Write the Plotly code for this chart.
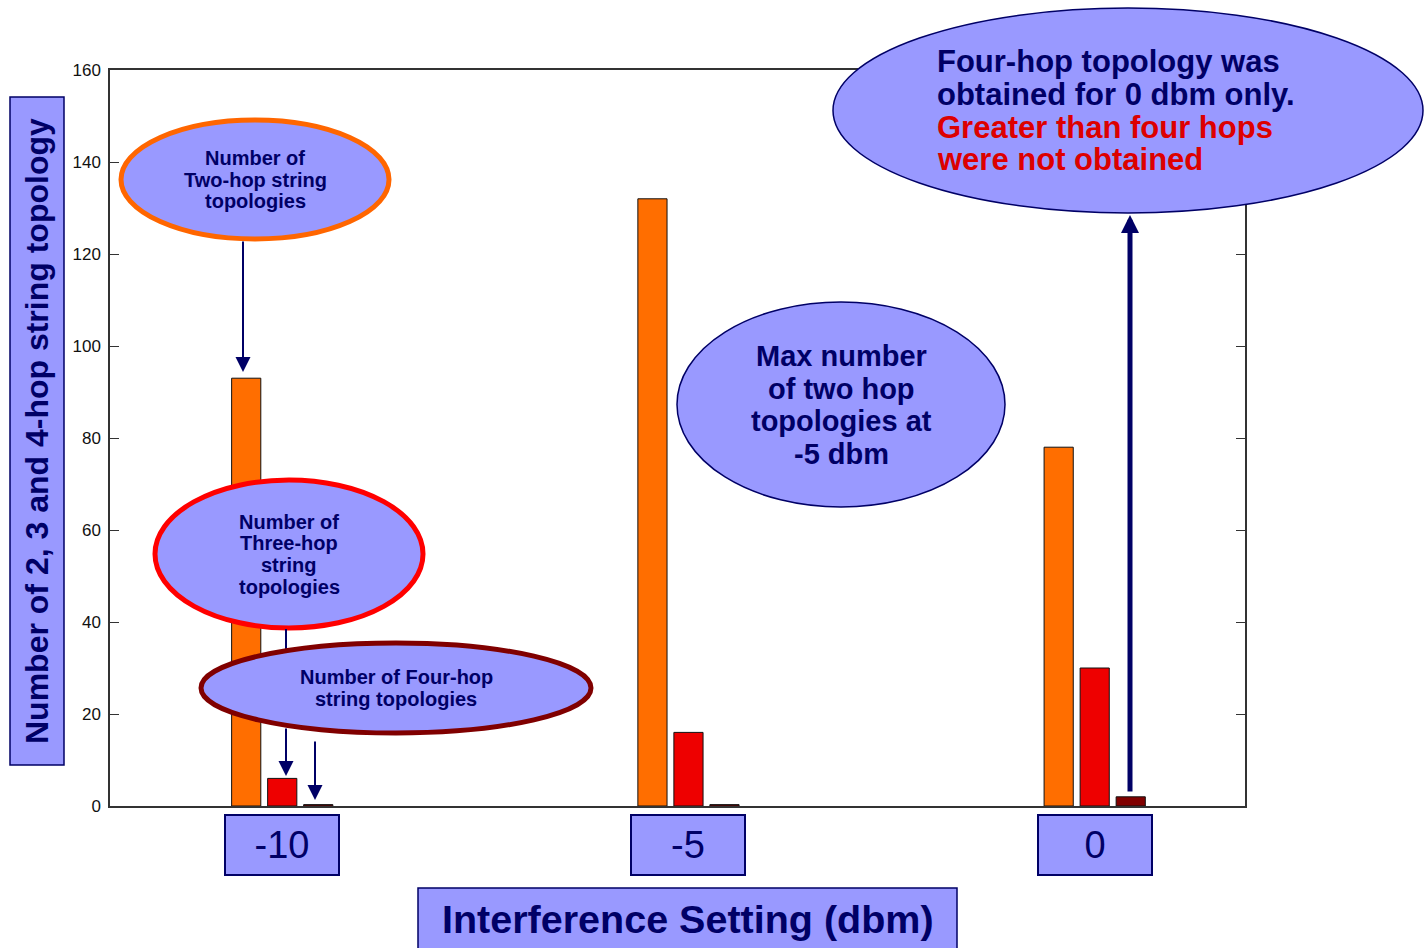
import plotly.graph_objects as go

# Interference settings (dbm) and topology counts per setting
settings = [-10, -5, 0]
tick_text = ["-10", "-5", "0"]
two_hop = [93, 132, 78]
three_hop = [6, 16, 30]
four_hop = [0.3, 0.3, 2]

FONT = "Liberation Sans, Arial, sans-serif"
NAVY = "#000066"
LILAC = "#9999FF"

W, H = 1425, 948
ML, MR, MT, MB = 110, 180, 70, 142
PW, PH = W - ML - MR, H - MT - MB


def fx(px):
    """page pixel x -> paper x"""
    return (px - ML) / PW


def fy(py):
    """page pixel y -> paper y"""
    return (H - MB - py) / PH


fig = go.Figure()
for name, vals, col in [("Two-hop", two_hop, "#FF6E00"),
                        ("Three-hop", three_hop, "#EE0000"),
                        ("Four-hop", four_hop, "#800000")]:
    fig.add_trace(go.Bar(x=settings, y=vals, name=name, marker_color=col,
                         marker_line=dict(color="#111111", width=1)))

shapes = []
annotations = []


def ellipse(x0, y0, x1, y1, border, bw):
    shapes.append(dict(type="circle", xref="paper", yref="paper", layer="above",
                       x0=fx(x0), x1=fx(x1), y0=fy(y1), y1=fy(y0),
                       fillcolor=LILAC, line=dict(color=border, width=bw)))


def text_lines(lines, x, ys, size, color=NAVY, anchor="center"):
    for t, y in zip(lines, ys):
        c = color[t] if isinstance(color, dict) else color
        annotations.append(dict(text=f"<b>{t}</b>", xref="paper", yref="paper",
                                x=fx(x), y=fy(y), xanchor=anchor, yanchor="middle",
                                showarrow=False, font=dict(family=FONT, size=size, color=c)))


def arrow(x, y_tip, y_tail, width, size):
    annotations.append(dict(text="", xref="paper", yref="paper", x=fx(x), y=fy(y_tip),
                            ax=0, ay=y_tail - y_tip, showarrow=True, arrowhead=2,
                            arrowwidth=width, arrowsize=size, arrowcolor=NAVY, standoff=0))


# y-axis title box
shapes.append(dict(type="rect", xref="paper", yref="paper", x0=fx(10), x1=fx(64),
                   y0=fy(765), y1=fy(97), fillcolor=LILAC, line=dict(color=NAVY, width=1.5)))
annotations.append(dict(text="<b>Number of 2, 3 and 4-hop string topology</b>",
                        xref="paper", yref="paper", x=fx(37), y=fy(431), textangle=-90,
                        xanchor="center", yanchor="middle",
                        showarrow=False, font=dict(family=FONT, size=32, color=NAVY)))

# x-axis title box
shapes.append(dict(type="rect", xref="paper", yref="paper", x0=fx(418), x1=fx(957),
                   y0=fy(952), y1=fy(888), fillcolor=LILAC, line=dict(color=NAVY, width=1.5)))
annotations.append(dict(text="<b>Interference Setting (dbm)</b>", xref="paper", yref="paper",
                        x=fx(688), y=fy(919), xanchor="center", yanchor="middle",
                        showarrow=False, font=dict(family=FONT, size=39.5, color=NAVY)))

# boxed category labels under each group
for s, t in zip(settings, tick_text):
    annotations.append(dict(text=t, xref="x", yref="paper", x=s, y=fy(845),
                            xanchor="center", yanchor="middle", showarrow=False,
                            width=112, height=58, bgcolor=LILAC, bordercolor=NAVY,
                            borderwidth=2, borderpad=0,
                            font=dict(family=FONT, size=38, color=NAVY)))

# callout: two-hop
ellipse(121, 120, 389, 239, "#FF6600", 5)
text_lines(["Number of", "Two-hop string", "topologies"], 255, [158, 180, 201], 20)
arrow(243, 372, 240, 2, 1.5)

# callout: three-hop (its leader runs behind the four-hop callout)
ellipse(155, 480, 423, 628, "#FF0000", 5)
text_lines(["Number of", "Three-hop", "string", "topologies"], 289, [522, 543, 565, 587], 20)
shapes.append(dict(type="line", xref="paper", yref="paper", layer="above",
                   x0=fx(286), x1=fx(286), y0=fy(629), y1=fy(700),
                   line=dict(color=NAVY, width=2)))

# callout: four-hop
ellipse(201, 643, 591, 733, "#800000", 5)
text_lines(["Number of Four-hop", "string topologies"], 396, [677, 699], 20)
arrow(286, 776, 727, 2, 1.5)
arrow(315, 800, 740, 2, 1.5)

# callout: maximum at -5 dbm
ellipse(677, 302, 1005, 507, NAVY, 1.5)
text_lines(["Max number", "of two hop", "topologies at", "-5 dbm"], 841, [356, 389, 421, 454], 29)

# callout: four-hop only at 0 dbm
ellipse(833, 8, 1423, 213, NAVY, 1.5)
big_lines = ["Four-hop topology was", "obtained for 0 dbm only.",
             "Greater than four hops", "were not obtained"]
text_lines(big_lines, 935, [62, 94, 127, 159], 31,
           color={big_lines[0]: NAVY, big_lines[1]: NAVY,
                  big_lines[2]: "#DD0000", big_lines[3]: "#DD0000"},
           anchor="left")
arrow(1130, 215, 793, 5, 0.72)

fig.update_layout(
    width=W, height=H, margin=dict(l=ML, r=MR, t=MT, b=MB),
    paper_bgcolor="white", plot_bgcolor="white",
    barmode="group", bargap=0.734, bargroupgap=0.19, showlegend=False,
    font=dict(family=FONT, color="#111111"),
    shapes=shapes, annotations=annotations,
    xaxis=dict(range=[-12.12, 1.85], showticklabels=False, ticks="", showgrid=False,
               zeroline=False, showline=True, mirror=True, linecolor="#333333", linewidth=1.5),
    yaxis=dict(range=[0, 160], tickvals=list(range(0, 161, 20)), ticks="inside", ticklen=9,
               tickcolor="#333333", showgrid=False, zeroline=False, showline=True,
               mirror="ticks", linecolor="#333333", linewidth=1.5, ticklabelstandoff=4,
               tickfont=dict(family=FONT, size=17, color="#111111")),
)

fig.write_html("out.html")
